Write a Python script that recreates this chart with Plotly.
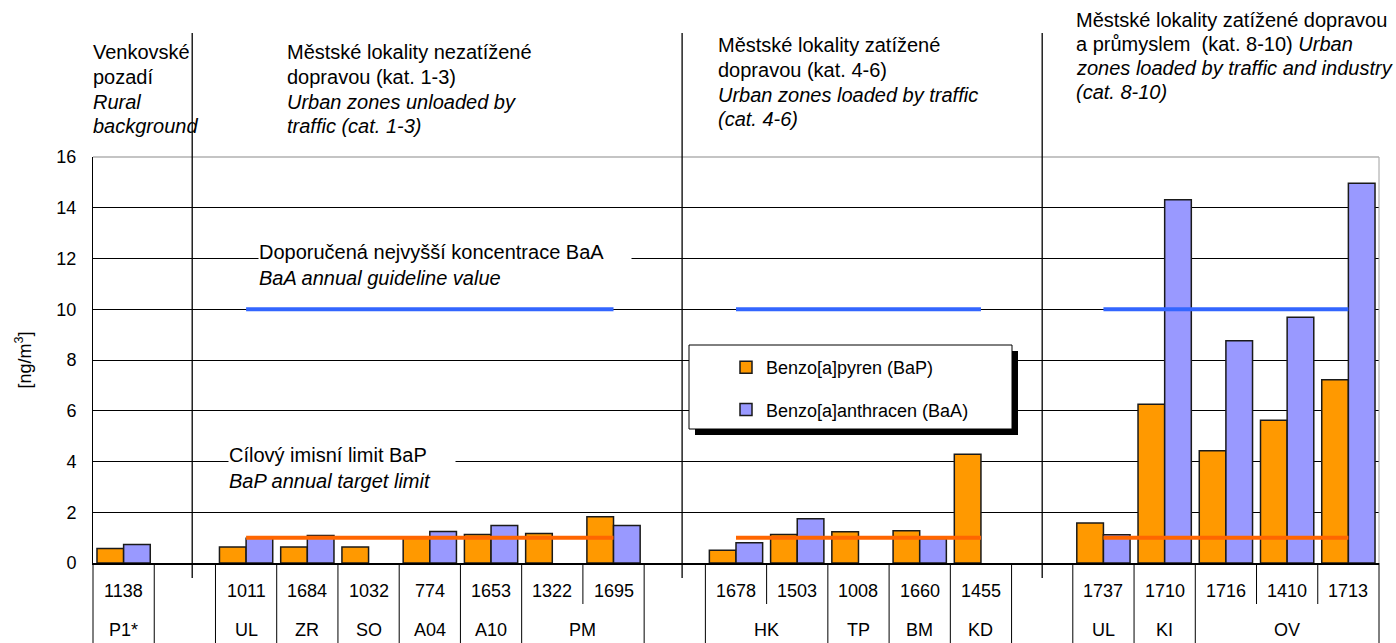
import plotly.graph_objects as go

# ---------------- data ----------------
stations = ["1138", "", "1011", "1684", "1032", "774", "1653", "1322", "1695", "",
            "1678", "1503", "1008", "1660", "1455", "",
            "1737", "1710", "1716", "1410", "1713"]
codes = ["P1*", "", "UL", "ZR", "SO", "A04", "A10", "PM", "PM", "",
         "HK", "HK", "TP", "BM", "KD", "",
         "UL", "KI", "OV", "OV", "OV"]
zones = [0, None, 1, 1, 1, 1, 1, 1, 1, None, 2, 2, 2, 2, 2, None, 3, 3, 3, 3, 3]
bap = [0.57, None, 0.63, 0.63, 0.63, 0.98, 1.12, 1.16, 1.82, None,
       0.50, 1.12, 1.23, 1.27, 4.29, None,
       1.58, 6.26, 4.42, 5.63, 7.22]
baa = [0.73, None, 0.98, 1.08, None, 1.24, 1.48, None, 1.48, None,
       0.80, 1.74, None, 0.97, None, None,
       1.11, 14.32, 8.76, 9.68, 14.97]
bap_limit = 1.0
baa_limit = 10.0
limit_zones = [1, 2, 3]

headings = [
    ["Venkovské", "pozadí", "<i>Rural</i>", "<i>background</i>"],
    ["Městské lokality nezatížené", "dopravou (kat. 1-3)",
     "<i>Urban zones unloaded by</i>", "<i>traffic (cat. 1-3)</i>"],
    ["Městské lokality zatížené", "dopravou (kat. 4-6)",
     "<i>Urban zones loaded by traffic</i>", "<i>(cat. 4-6)</i>"],
    ["Městské lokality zatížené dopravou",
     "a průmyslem\u00a0\u00a0(kat. 8-10) <i>Urban</i>",
     "<i>zones loaded by traffic and industry</i>", "<i>(cat. 8-10)</i>"],
]
name_bap = "Benzo[a]pyren (BaP)"
name_baa = "Benzo[a]anthracen (BaA)"
text_baa = "Doporučená nejvyšší koncentrace BaA<br><i>BaA annual guideline value</i>"
text_bap = "Cílový imisní limit BaP<br><i>BaP annual target limit</i>"

# ---------------- geometry helpers ----------------
FW, FH = 1396, 643
L, R, T, B = 93, 1379, 157, 563
W, H = R - L, B - T
n = len(stations)
FONT = "Liberation Sans, Arial, sans-serif"


def px(x):
    return (x - L) / W


def py(y):
    return (B - y) / H


def dx(i):  # data x -> paper x
    return (i + 0.5) / n


x = list(range(n))
fig = go.Figure()
fig.add_trace(go.Bar(x=x, y=bap, name=name_bap, marker_color="#FF9900",
                     marker_line=dict(color="#1a1a1a", width=1.5), legendgroup="a"))
fig.add_trace(go.Bar(x=x, y=baa, name=name_baa, marker_color="#9999FF",
                     marker_line=dict(color="#1a1a1a", width=1.5), legendgroup="b"))

for z in limit_zones:
    idx = [i for i in range(n) if zones[i] == z]
    xs = [idx[0], idx[-1]]
    fig.add_trace(go.Scatter(x=xs, y=[baa_limit] * 2, mode="lines",
                             line=dict(color="#3366FF", width=4), showlegend=False,
                             hoverinfo="skip"))
    fig.add_trace(go.Scatter(x=xs, y=[bap_limit] * 2, mode="lines",
                             line=dict(color="#FF6600", width=4), showlegend=False,
                             hoverinfo="skip"))

shapes = []
# top and right border (grey)
shapes.append(dict(type="line", xref="paper", yref="paper", x0=1, x1=1, y0=0, y1=1,
                   line=dict(color="#A0A0A0", width=1), layer="above"))
shapes.append(dict(type="line", xref="paper", yref="paper", x0=0, x1=1, y0=1, y1=1,
                   line=dict(color="#B0B0B0", width=1.5), layer="above"))
# group separators
for sx in [1.12, 9.12, 15.0]:
    shapes.append(dict(type="line", xref="paper", yref="paper", x0=dx(sx), x1=dx(sx),
                       y0=py(578), y1=py(33), line=dict(color="black", width=1.3),
                       layer="above"))
# table vertical lines
for b in range(n + 1):
    full = b == 0 or b == n or codes[b - 1] != codes[b] or codes[b] == ""
    y0 = py(FH) if full else py(604)
    shapes.append(dict(type="line", xref="paper", yref="paper", x0=b / n, x1=b / n,
                       y0=y0, y1=0, line=dict(color="black", width=1)))
# legend box with shadow
shapes.append(dict(type="rect", xref="paper", yref="paper", x0=px(695), x1=px(1018),
                   y0=py(435), y1=py(351), fillcolor="black", line=dict(width=0),
                   layer="above"))
shapes.append(dict(type="rect", xref="paper", yref="paper", x0=px(689), x1=px(1012),
                   y0=py(429), y1=py(345), fillcolor="white",
                   line=dict(color="black", width=1), layer="above"))

ann = []
# table text
for i, s in enumerate(stations):
    if s:
        ann.append(dict(x=dx(i), y=py(591), xref="paper", yref="paper", text=s,
                        xanchor="center", yanchor="middle",
                        showarrow=False, font=dict(size=18, color="black")))
i = 0
while i < n:
    j = i
    while j + 1 < n and codes[j + 1] == codes[i]:
        j += 1
    if codes[i]:
        ann.append(dict(x=dx((i + j) / 2), y=py(630), xref="paper", yref="paper",
                        text=codes[i], xanchor="center", yanchor="middle",
                        showarrow=False, font=dict(size=18, color="black")))
    i = j + 1

# headings
head_x = [91, 285, 716, 1074]
head_y = [[52, 77, 102, 126], [52, 77, 102, 126], [45, 70, 95, 119], [20, 44, 68, 92]]
for hx, hys, lines in zip(head_x, head_y, headings):
    for hy, t in zip(hys, lines):
        ann.append(dict(x=px(hx), y=py(hy), xref="paper", yref="paper", text=t,
                        xanchor="left", yanchor="middle", showarrow=False,
                        font=dict(size=20, color="black")))

# limit captions (white box hides grid line)
ann.append(dict(x=px(258), y=py(265), xref="paper", yref="paper", text=text_baa,
                xanchor="left", yanchor="middle", align="left", showarrow=False,
                bgcolor="white", width=372, borderpad=0,
                font=dict(size=20, color="black")))
ann.append(dict(x=px(228), y=py(468), xref="paper", yref="paper", text=text_bap,
                xanchor="left", yanchor="middle", align="left", showarrow=False,
                bgcolor="white", width=226, borderpad=0,
                font=dict(size=20, color="black")))

fig.update_layout(
    width=FW, height=FH,
    margin=dict(l=L, r=FW - R, t=T, b=FH - B, pad=0, autoexpand=False),
    paper_bgcolor="white", plot_bgcolor="white",
    font=dict(family=FONT, size=18, color="black"),
    barmode="group", bargap=0.13, bargroupgap=0,
    showlegend=True,
    legend=dict(x=px(726), y=py(349), xanchor="left", yanchor="top",
                bgcolor="rgba(0,0,0,0)", borderwidth=0, tracegroupgap=16,
                font=dict(size=18, color="black"), traceorder="grouped"),
    shapes=shapes, annotations=ann,
)
fig.update_xaxes(range=[-0.5, n - 0.5], showticklabels=False, showgrid=False,
                 zeroline=False, showline=True, linecolor="black", linewidth=2,
                 ticks="")
fig.update_yaxes(range=[0, 16], tickvals=[0, 2, 4, 6, 8, 10, 12, 14, 16],
                 showgrid=True, gridcolor="black",
                 gridwidth=1, zeroline=False, showline=True, linecolor="black",
                 linewidth=1, ticks="", ticklabelstandoff=12,
                 tickfont=dict(size=18),
                 title=dict(text="[ng/m<sup>3</sup>]", font=dict(size=18), standoff=20))

fig.write_html("out.html", config={"displayModeBar": False},
               post_script="document.body.style.margin='0';"
                           "document.body.style.padding='0';")
